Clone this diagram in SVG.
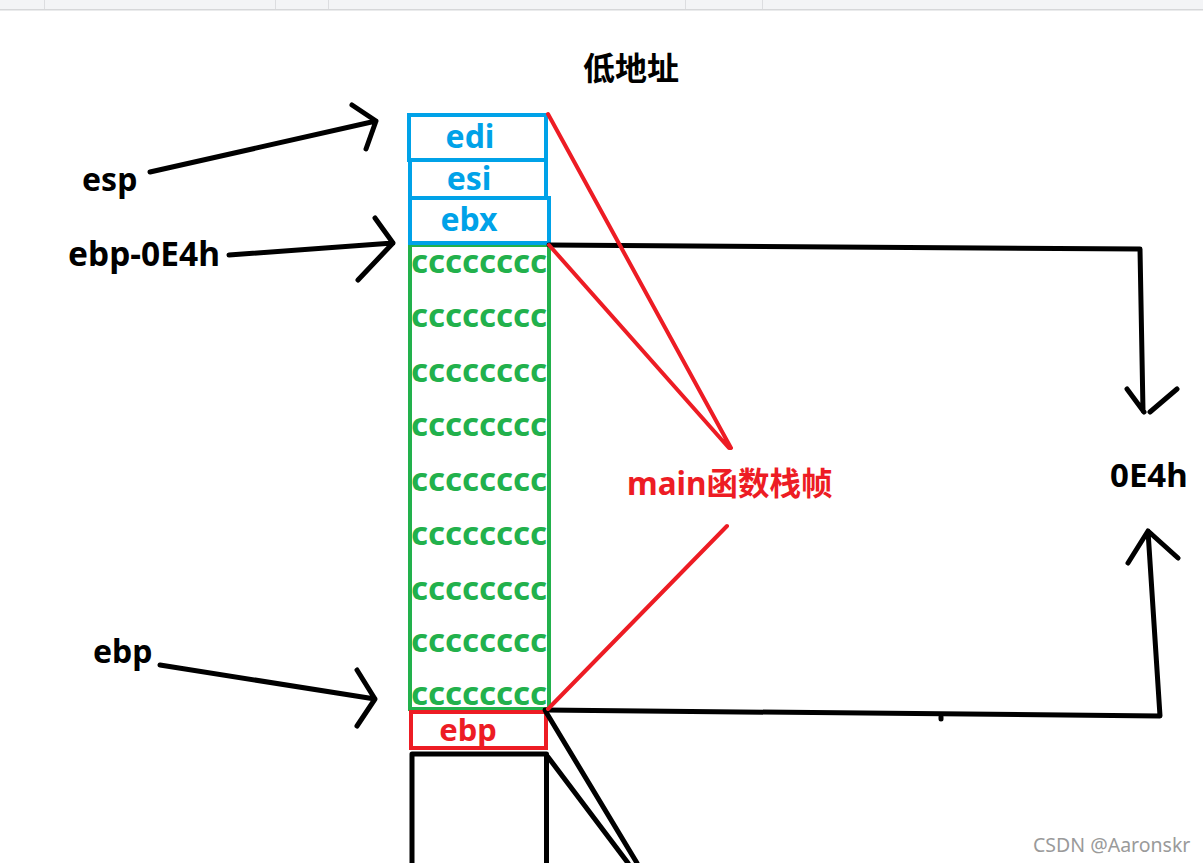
<svg xmlns="http://www.w3.org/2000/svg" width="1203" height="863" viewBox="0 0 1203 863">
<style>
.lbl{font-family:"Noto Sans","Open Sans","Noto Sans CJK SC",sans-serif;font-weight:bold}
.blk{fill:#000}
.blue{fill:#00a2e8}
.grn{fill:#22b14c}
.red{fill:#ed1c24}
.box{fill:none;stroke-width:4}
.ln{fill:none;stroke:#000;stroke-width:5;stroke-linecap:round;stroke-linejoin:round}
.rl{fill:none;stroke:#ed1c24;stroke-width:4;stroke-linecap:round}
</style>
<rect x="0" y="0" width="1203" height="863" fill="#fff"/>
<g id="toolbar">
<rect x="0" y="0" width="1203" height="9" fill="#f3f4f6"/>
<rect x="0" y="9" width="1203" height="1.5" fill="#d6d7d9"/>
<g fill="#dcdde0">
<rect x="44" y="0" width="1" height="9"/><rect x="275" y="0" width="1" height="9"/><rect x="328" y="0" width="1" height="9"/><rect x="685" y="0" width="1" height="9"/><rect x="762" y="0" width="1" height="9"/>
</g>
</g>
<g id="title"><text class="lbl blk" x="631" y="80" font-size="32" text-anchor="middle">低地址</text></g>
<g id="cccc-block">
<rect class="box" x="410" y="245" width="139" height="464" stroke="#22b14c"/>
<g class="lbl grn" font-size="33" text-anchor="middle">
<text x="479" y="273">cccccccc</text>
<text x="479" y="327">cccccccc</text>
<text x="479" y="382">cccccccc</text>
<text x="479" y="436">cccccccc</text>
<text x="479" y="491">cccccccc</text>
<text x="479" y="545">cccccccc</text>
<text x="479" y="600">cccccccc</text>
<text x="479" y="652">cccccccc</text>
<text x="479" y="705">cccccccc</text>
</g>
</g>
<g id="edi"><rect class="box" x="409" y="115" width="137" height="45" stroke="#00a2e8"/><text class="lbl blue" x="470" y="148" font-size="32" text-anchor="middle">edi</text></g>
<g id="esi"><rect class="box" x="410" y="160" width="136" height="38" stroke="#00a2e8"/><text class="lbl blue" x="469" y="190" font-size="32" text-anchor="middle">esi</text></g>
<g id="ebx"><rect class="box" x="410" y="198" width="139" height="45" stroke="#00a2e8"/><text class="lbl blue" x="469" y="231" font-size="32" text-anchor="middle">ebx</text></g>
<g id="ebp-slot"><rect class="box" x="411" y="712" width="135" height="36" stroke="#ed1c24"/><text class="lbl red" x="468" y="741" font-size="31" text-anchor="middle">ebp</text></g>
<g id="lower-slot"><path class="ln" d="M412,863 L412,754 L546.5,754 L546.5,863" stroke-width="4.5" stroke-linecap="butt"/></g>
<g id="label-esp"><text class="lbl blk" x="82" y="191" font-size="32">esp</text></g>
<g id="label-ebp-0E4h"><text class="lbl blk" x="68" y="266" font-size="33.5">ebp-0E4h</text></g>
<g id="label-ebp"><text class="lbl blk" x="93" y="663" font-size="32">ebp</text></g>
<g id="label-main"><text class="lbl red" x="627" y="495" font-size="31.5">main函数栈帧</text></g>
<g id="label-0E4h"><text class="lbl blk" x="1110" y="487" font-size="33">0E4h</text></g>
<g id="connectors">
<path class="ln" d="M150,172 L376,121 M352,105 L376,121 L366,149"/>
<path class="ln" d="M229,255 L393,243 M375,218 L393,243 L358,280"/>
<path class="ln" d="M160,665 L375,699 M357,670 L375,699 L357,726"/>
<path class="ln" d="M549,245 L1140,249 L1143,411 M1127,389 L1144,412 M1177,389 L1150,412"/>
<path class="ln" d="M545,710 L1160,716 L1148,531 M1128,563 L1148,531 L1178,558"/>
<path class="ln" d="M941,717 L941,719"/>
<path class="ln" d="M546,712 L637,863 M548,757 L628,863" stroke-width="4.5"/>
<path class="rl" d="M548,114 L731,448 M549,245 L729,448 M727,526 L548,709"/>
</g>
<g id="watermark"><text x="1033" y="852" font-family="'Noto Sans','Open Sans',sans-serif" font-size="19.5" fill="#9a9a9a">CSDN @Aaronskr</text></g>
</svg>
